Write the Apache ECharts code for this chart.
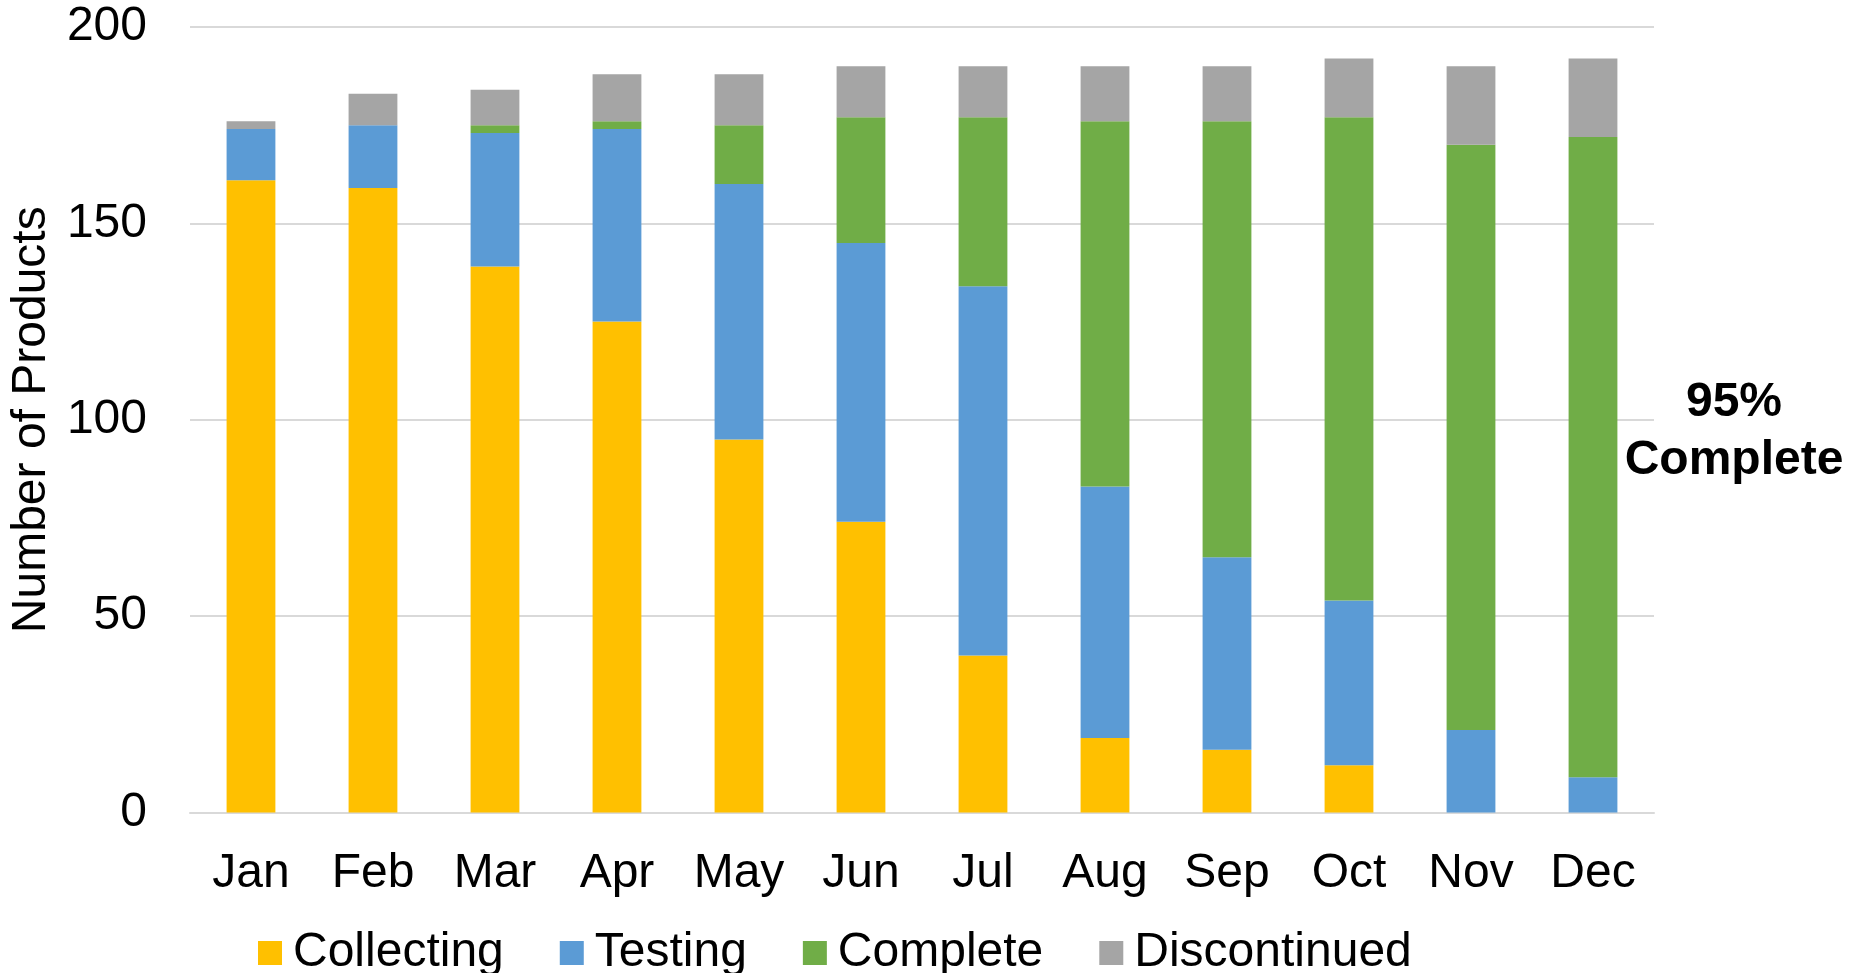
<!DOCTYPE html>
<html>
<head>
<meta charset="utf-8">
<script src="https://cdn.jsdelivr.net/npm/echarts@6/dist/echarts.min.js"></script>
<style>
html,body{margin:0;padding:0;background:#fff;}
#chart{width:1857px;height:973px;}
</style>
</head>
<body>
<div id="chart"></div>
<script>
const months = ['Jan','Feb','Mar','Apr','May','Jun','Jul','Aug','Sep','Oct','Nov','Dec'];
const collecting   = [161,159,139,125,95,74,40,19,16,12,0,0];
const testing      = [13,16,34,49,65,71,94,64,49,42,21,9];
const complete     = [0,0,2,2,15,32,43,93,111,123,149,163];
const discontinued = [2,8,9,12,13,13,13,14,14,15,20,20];
const yTicks = [0,50,100,150,200];
const seriesNames = ['Collecting','Testing','Complete','Discontinued'];
const noteText = '95%\nComplete';

const font = 'Liberation Sans, Arial, sans-serif';
const colors = ['#FFC000','#5B9BD5','#70AD47','#A5A5A5'];
const dataSets = [collecting, testing, complete, discontinued];

const chart = echarts.init(document.getElementById('chart'));
chart.setOption({
  animation: false,
  color: colors,
  grid: {left: 189.5, right: 203, top: 27, bottom: 160.5, containLabel: false},
  legend: {
    data: seriesNames,
    left: 253, top: 924,
    itemWidth: 24, itemHeight: 24, itemGap: 56,
    icon: 'rect',
    textStyle: {fontFamily: font, fontSize: 48, color: '#000', padding: [0,0,0,6]}
  },
  xAxis: {
    type: 'category',
    data: months,
    axisLine: {show: true, lineStyle: {color: '#d9d9d9', width: 2}},
    axisTick: {show: false},
    axisLabel: {fontFamily: font, fontSize: 48, color: '#000', margin: 37, interval: 0}
  },
  yAxis: {
    type: 'value',
    min: yTicks[0], max: yTicks[yTicks.length-1], interval: 50,
    name: 'Number of Products',
    nameLocation: 'middle',
    nameGap: 125,
    nameTextStyle: {fontFamily: font, fontSize: 48, color: '#000'},
    axisLine: {show: false},
    axisTick: {show: false},
    axisLabel: {fontFamily: font, fontSize: 48, color: '#000', margin: 43},
    splitLine: {lineStyle: {color: '#d9d9d9', width: 2}}
  },
  series: seriesNames.map((n, i) => ({
    name: n,
    type: 'bar',
    stack: 'total',
    barCategoryGap: '60%',
    data: dataSets[i],
    itemStyle: {color: colors[i]}
  })),
  graphic: [{
    type: 'text',
    left: 1734 - 110, top: 427 - 53,
    style: {
      text: noteText,
      fontFamily: font, fontSize: 48, fontWeight: 'bold',
      fill: '#000', textAlign: 'center', lineHeight: 58,
      width: 220
    }
  }]
});
</script>
</body>
</html>
